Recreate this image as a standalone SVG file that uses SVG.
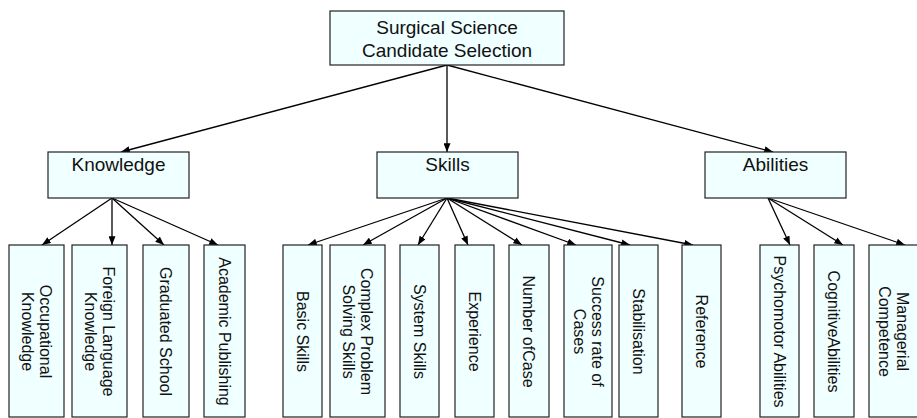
<svg xmlns="http://www.w3.org/2000/svg" width="917" height="418" viewBox="0 0 917 418">
<style>
.box{fill:#F0FFFF;stroke:#222;stroke-width:1.2}
.t{font-family:"Liberation Sans",Arial,sans-serif;fill:#111;text-anchor:middle}
.t19{font-size:19px}
.t16{font-size:16px}
.e{stroke:#000;stroke-width:1.3;fill:none;marker-end:url(#ah)}
</style>
<defs>
<marker id="ah" viewBox="0 0 10 8" refX="10" refY="4" markerWidth="9" markerHeight="7" orient="auto" markerUnits="userSpaceOnUse">
<path d="M0,0 L10,4 L0,8 Z" fill="#000"/>
</marker>
</defs>
<g id="connectors">
<line class="e" x1="447" y1="65" x2="121" y2="152"/>
<line class="e" x1="447" y1="65" x2="447" y2="152"/>
<line class="e" x1="447" y1="65" x2="773" y2="152"/>
<line class="e" x1="112" y1="198" x2="42" y2="245"/>
<line class="e" x1="112" y1="198" x2="112" y2="245"/>
<line class="e" x1="112" y1="198" x2="164" y2="245"/>
<line class="e" x1="112" y1="198" x2="218" y2="245"/>
<line class="e" x1="447" y1="198" x2="308" y2="245"/>
<line class="e" x1="447" y1="198" x2="363" y2="245"/>
<line class="e" x1="447" y1="198" x2="418" y2="245"/>
<line class="e" x1="447" y1="198" x2="468" y2="245"/>
<line class="e" x1="447" y1="198" x2="522" y2="245"/>
<line class="e" x1="447" y1="198" x2="576" y2="245"/>
<line class="e" x1="447" y1="198" x2="630" y2="245"/>
<line class="e" x1="447" y1="198" x2="693" y2="245"/>
<line class="e" x1="768" y1="198" x2="790" y2="245"/>
<line class="e" x1="768" y1="198" x2="843" y2="245"/>
<line class="e" x1="768" y1="198" x2="905" y2="245"/>
</g>
<g id="root">
<rect class="box" x="330" y="11" width="234" height="54"/>
<text class="t t19" x="447" y="34">Surgical Science</text>
<text class="t t19" x="447" y="57">Candidate Selection</text>
</g>
<g id="knowledge">
<rect class="box" x="48" y="152" width="141" height="46"/>
<text class="t t19" x="118.5" y="171">Knowledge</text>
</g>
<g id="skills">
<rect class="box" x="377" y="152" width="141" height="46"/>
<text class="t t19" x="447.5" y="171">Skills</text>
</g>
<g id="abilities">
<rect class="box" x="705" y="152" width="141" height="46"/>
<text class="t t19" x="775.5" y="171">Abilities</text>
</g>
<g id="occupational-knowledge">
<rect class="box" x="9" y="245" width="55" height="172"/>
<g transform="translate(36.5,331.5) rotate(90)"><text class="t t16" x="0" y="-3.5">Occupational</text><text class="t t16" x="0" y="14.5">Knowledge</text></g>
</g>
<g id="foreign-language-knowledge">
<rect class="box" x="72" y="245" width="55" height="172"/>
<g transform="translate(99.5,331.5) rotate(90)"><text class="t t16" x="0" y="-3.5">Foreign Language</text><text class="t t16" x="0" y="14.5">Knowledge</text></g>
</g>
<g id="graduated-school">
<rect class="box" x="143" y="245" width="46" height="172"/>
<g transform="translate(166,331.5) rotate(90)"><text class="t t16" x="0" y="5.75">Graduated School</text></g>
</g>
<g id="academic-publishing">
<rect class="box" x="204" y="245" width="41" height="172"/>
<g transform="translate(224.5,331.5) rotate(90)"><text class="t t16" x="0" y="5.75">Academic Publishing</text></g>
</g>
<g id="basic-skills">
<rect class="box" x="283" y="245" width="39" height="172"/>
<g transform="translate(302.5,331.5) rotate(90)"><text class="t t16" x="0" y="5.75">Basic Skills</text></g>
</g>
<g id="complex-problem-solving-skills">
<rect class="box" x="330" y="245" width="55" height="172"/>
<g transform="translate(357.5,331.5) rotate(90)"><text class="t t16" x="0" y="-3.5">Complex Problem</text><text class="t t16" x="0" y="14.5">Solving Skills</text></g>
</g>
<g id="system-skills">
<rect class="box" x="400" y="245" width="39" height="172"/>
<g transform="translate(419.5,331.5) rotate(90)"><text class="t t16" x="0" y="5.75">System Skills</text></g>
</g>
<g id="experience">
<rect class="box" x="455" y="245" width="39" height="172"/>
<g transform="translate(474.5,331.5) rotate(90)"><text class="t t16" x="0" y="5.75">Experience</text></g>
</g>
<g id="number-of-case">
<rect class="box" x="509" y="245" width="40" height="172"/>
<g transform="translate(529,331.5) rotate(90)"><text class="t t16" x="0" y="5.75">Number ofCase</text></g>
</g>
<g id="success-rate-of-cases">
<rect class="box" x="564" y="245" width="48" height="172"/>
<g transform="translate(588,331.5) rotate(90)"><text class="t t16" x="0" y="-3.5">Success rate of</text><text class="t t16" x="0" y="14.5">Cases</text></g>
</g>
<g id="stabilisation">
<rect class="box" x="619" y="245" width="39" height="172"/>
<g transform="translate(638.5,331.5) rotate(90)"><text class="t t16" x="0" y="5.75">Stabilisation</text></g>
</g>
<g id="reference">
<rect class="box" x="682" y="245" width="39" height="172"/>
<g transform="translate(701.5,331.5) rotate(90)"><text class="t t16" x="0" y="5.75">Reference</text></g>
</g>
<g id="psychomotor-abilities">
<rect class="box" x="760" y="245" width="39" height="172"/>
<g transform="translate(779.5,331.5) rotate(90)"><text class="t t16" x="0" y="5.75">Psychomotor Abilities</text></g>
</g>
<g id="cognitive-abilities">
<rect class="box" x="814" y="245" width="40" height="172"/>
<g transform="translate(834,331.5) rotate(90)"><text class="t t16" x="0" y="5.75">CognitiveAbilities</text></g>
</g>
<g id="managerial-competence">
<rect class="box" x="869" y="245" width="49" height="172"/>
<g transform="translate(893.5,331.5) rotate(90)"><text class="t t16" x="0" y="-3.5">Managerial</text><text class="t t16" x="0" y="14.5">Competence</text></g>
</g>
</svg>
